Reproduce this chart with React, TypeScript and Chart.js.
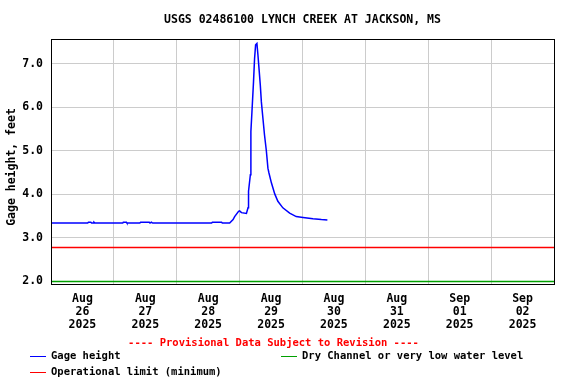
import React, { useEffect, useRef } from "react";
import { Chart, registerables } from "chart.js";

Chart.register(...registerables);

// Hours since Aug 26 2025 00:00
const hours = [
  0, 14.0, 14.3, 15.2, 15.5, 16.2, 16.4, 16.8,
  27.4, 27.6, 28.8, 29.0,
  33.9, 34.2, 37.5, 37.8, 38.3, 38.8,
  61.3, 61.6, 65.1, 65.4,
  68.2, 69.5, 70.1, 71.6, 72.0, 72.7, 74.6, 75.2, 75.4, 76.1, 76.3, 76.7,
  77.3, 77.7, 78.1, 78.6, 79.0, 79.5, 79.9, 80.3, 80.9, 81.5, 82.2, 82.8,
  83.2, 84.1, 85.4, 86.6, 88.5, 91.1, 93.6, 96.2, 100.0, 103.2, 105.5,
];
const gageHeight = [
  3.34, 3.34, 3.36, 3.36, 3.34, 3.34, 3.36, 3.34,
  3.34, 3.36, 3.36, 3.34,
  3.34, 3.36, 3.36, 3.34, 3.36, 3.34,
  3.34, 3.36, 3.36, 3.34,
  3.34, 3.42, 3.49, 3.61, 3.62, 3.58, 3.56, 3.69, 4.07, 4.45, 5.44, 5.89,
  6.58, 7.11, 7.43, 7.46, 7.19, 6.81, 6.5, 6.12, 5.74, 5.36, 5.0, 4.6,
  4.49, 4.27, 4.01, 3.84, 3.69, 3.57, 3.49, 3.47, 3.44, 3.42, 3.41,
];
const operationalLimit = 2.78;
const dryChannel = 2.0;

const tickMonths = ["Aug", "Aug", "Aug", "Aug", "Aug", "Aug", "Sep", "Sep"];
const tickDays = ["26", "27", "28", "29", "30", "31", "01", "02"];
const tickYears = ["2025", "2025", "2025", "2025", "2025", "2025", "2025", "2025"];
const yTicks = [2, 3, 4, 5, 6, 7];

const TITLE = "USGS 02486100 LYNCH CREEK AT JACKSON, MS";
const Y_TITLE = "Gage height, feet";
const PROVISIONAL = "---- Provisional Data Subject to Revision ----";

const FONT = "DejaVu Sans Mono";

const overlay = {
  id: "overlay",
  afterDatasetsDraw(chart: any) {
    const ctx = chart.ctx;
    const a = chart.chartArea;
    ctx.save();
    ctx.beginPath();
    // border
    ctx.strokeStyle = "#000";
    ctx.lineWidth = 1;
    ctx.strokeRect(Math.round(a.left) + 0.5, Math.round(a.top) + 0.5, Math.round(a.right - a.left), Math.round(a.bottom - a.top));
    // title
    ctx.fillStyle = "#000";
    ctx.font = `bold 11.5px "${FONT}"`;
    ctx.textAlign = "center";
    ctx.textBaseline = "middle";
    ctx.fillText(TITLE, (a.left + a.right) / 2, 20.5);
    // y title
    ctx.save();
    ctx.translate(12, 167);
    ctx.rotate(-Math.PI / 2);
    ctx.fillText(Y_TITLE, 0, 0);
    ctx.restore();
    // provisional
    ctx.font = `bold 10.5px "${FONT}"`;
    ctx.fillStyle = "#ff0000";
    ctx.fillText(PROVISIONAL, 273.5, 343);
    // legend
    const items = [
      { color: "#0000ff", x: 30, y: 356, text: "Gage height" },
      { color: "#00a000", x: 281, y: 356, text: "Dry Channel or very low water level" },
      { color: "#ff0000", x: 30, y: 372, text: "Operational limit (minimum)" },
    ];
    ctx.textAlign = "left";
    for (const it of items) {
      ctx.strokeStyle = it.color;
      ctx.beginPath();
      ctx.moveTo(it.x, it.y + 0.5);
      ctx.lineTo(it.x + 16, it.y + 0.5);
      ctx.stroke();
      ctx.fillStyle = "#000";
      ctx.fillText(it.text, it.x + 21, it.y + 0.5);
    }
    ctx.restore();
  },
};

export default function App() {
  const ref = useRef<HTMLCanvasElement>(null);
  useEffect(() => {
    document.body.style.margin = "0";
    const canvas = ref.current!;
    const chart = new Chart(canvas, {
      type: "line",
      data: {
        datasets: [
          {
            label: "Gage height",
            data: hours.map((h, i) => ({ x: h, y: gageHeight[i] })),
            borderColor: "#0000ff",
            borderWidth: 1.5,
            pointRadius: 0,
            tension: 0,
          },
          {
            label: "Operational limit (minimum)",
            data: [{ x: 0, y: operationalLimit }, { x: 192, y: operationalLimit }],
            borderColor: "#ff0000",
            borderWidth: 1.5,
            pointRadius: 0,
          },
          {
            label: "Dry Channel or very low water level",
            data: [{ x: 0, y: dryChannel }, { x: 192, y: dryChannel }],
            borderColor: "#00a000",
            borderWidth: 1.5,
            pointRadius: 0,
          },
        ],
      },
      options: {
        animation: false,
        responsive: false,
        devicePixelRatio: 1,
        layout: { padding: { top: 39, right: 22, left: 0, bottom: 0 } },
        plugins: { legend: { display: false }, title: { display: false }, tooltip: { enabled: false } },
        scales: {
          x: {
            type: "linear",
            min: 0,
            max: 192,
            afterBuildTicks: (s: any) => {
              const t = [];
              for (let v = 0; v <= 192; v += 12) t.push({ value: v });
              s.ticks = t;
            },
            afterFit: (s: any) => {
              s.height = 100;
            },
            border: { display: false },
            grid: {
              drawTicks: false,
              color: (c: any) => (c.tick && c.tick.value % 24 === 0 ? "#cccccc" : "rgba(0,0,0,0)"),
              lineWidth: 1,
            },
            ticks: {
              autoSkip: false,
              maxRotation: 0,
              minRotation: 0,
              padding: 9,
              color: "#000",
              font: { family: FONT, size: 11.5, weight: "bold", lineHeight: "13px" },
              callback: (v: any) => {
                const n = Number(v);
                if (n % 24 !== 12) return "";
                const i = Math.floor(n / 24);
                return [tickMonths[i], tickDays[i], tickYears[i]];
              },
            },
          },
          y: {
            type: "linear",
            min: 1.9426,
            max: 7.5635,
            afterBuildTicks: (s: any) => {
              s.ticks = yTicks.map((v) => ({ value: v }));
            },
            afterFit: (s: any) => {
              s.width = 51;
            },
            border: { display: false },
            grid: { drawTicks: false, color: "#cccccc", lineWidth: 1 },
            ticks: {
              padding: 8,
              color: "#000",
              font: { family: FONT, size: 11.5, weight: "bold" },
              callback: (v: any) => Number(v).toFixed(1),
            },
          },
        },
      },
      plugins: [overlay],
    } as any);
    return () => chart.destroy();
  }, []);
  return (
    <div style={{ width: 576, height: 384 }}>
      <canvas ref={ref} width={576} height={384} />
    </div>
  );
}
